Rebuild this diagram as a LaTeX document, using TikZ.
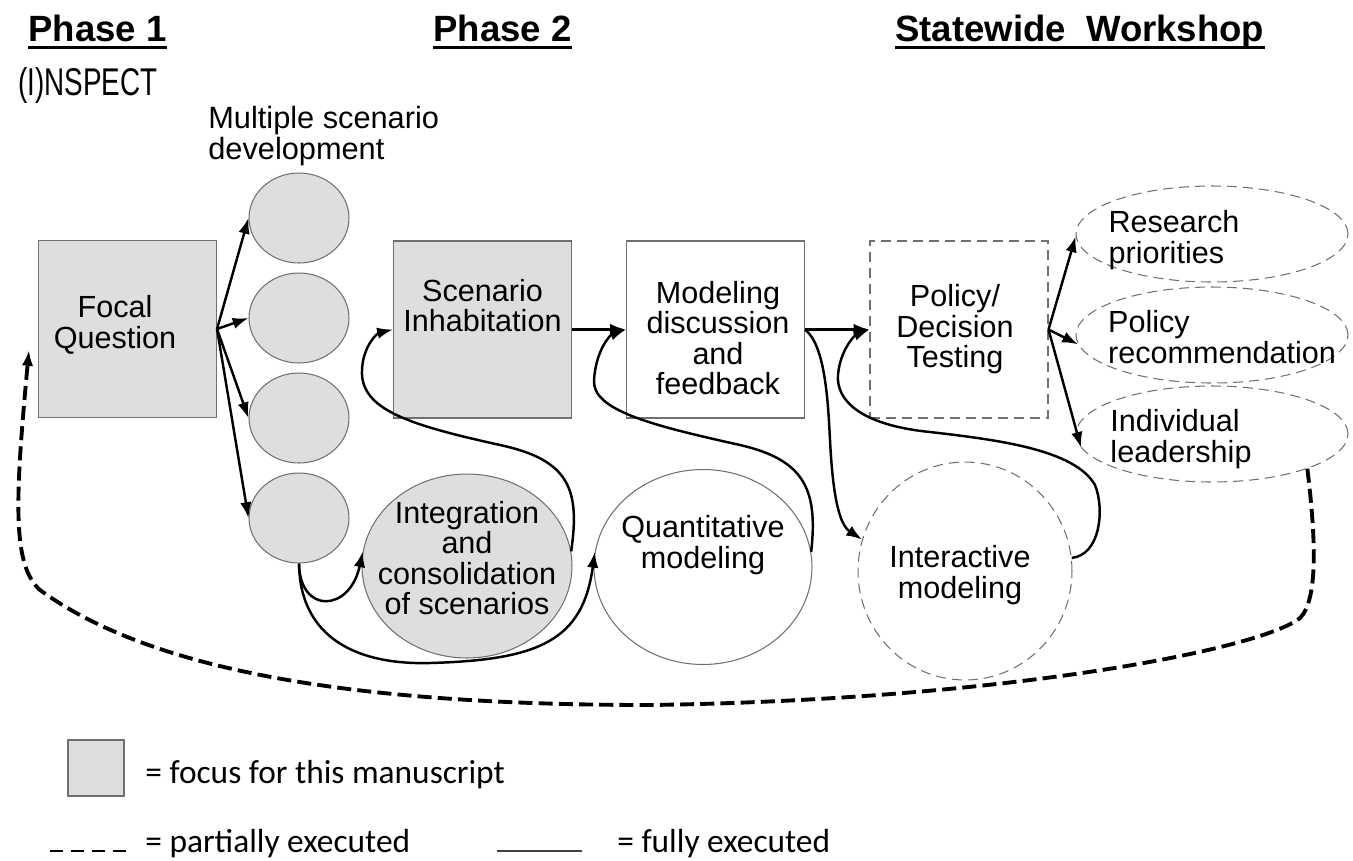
\documentclass[tikz,border=0pt]{standalone}
\usepackage{fontspec}
\setmainfont{Liberation Sans}
\newfontfamily\legfont{Carlito}
\usepackage{tikz}
\usetikzlibrary{shapes.geometric}
\usetikzlibrary{arrows.meta}
\usetikzlibrary{positioning}
\definecolor{fokusgrau}{HTML}{DEDEDE}
\definecolor{randgrau}{HTML}{707070}
\tikzset{
  Focus/.style={draw=randgrau, fill=fokusgrau, line width=0.6pt}, % Schwerpunkt
  Plain/.style={draw=randgrau, line width=0.6pt}, % ausgefuehrt
  Partial/.style={draw=randgrau, line width=0.6pt, dash pattern=on 5.7pt off 3.4pt}, % teilweise
  Square/.style={rectangle, minimum width=3.56cm, minimum height=3.54cm, inner sep=0pt},
  Bubble/.style={ellipse, minimum width=2cm, minimum height=1.8cm, inner sep=0pt},
  Result/.style={ellipse, Partial, minimum width=5.44cm, minimum height=1.92cm, inner sep=0pt},
  Label/.style={inner sep=0pt, align=center},
  RLabel/.style={inner sep=0pt, align=left},
  Head/.style={anchor=base west, inner sep=0pt, font=\fontsize{20.8}{24}\selectfont\bfseries},
  Legend/.style={anchor=base west, inner sep=0pt, font=\legfont\fontsize{19}{22}\selectfont},
  Arrow/.style={line width=1.4pt, ->}, % Pfeile
  BackArrow/.style={line width=2.2pt, ->, dash pattern=on 8pt off 3.5pt} % Rueckfuehrung
}

\begin{document}
\begin{tikzpicture}[x=0.02cm, y=-0.02cm,
font=\fontsize{17.4}{17.4}\selectfont,
>={Latex[length=9pt,width=6.5pt]} % Pfeilspitzen
]
\useasboundingbox (0,0) rectangle (1353,860);

%Ueberschriften
\node[Head] (ph1) at (28,41) {Phase 1};
\node[Head] (ph2) at (433,41) {Phase 2};
\node[Head] (ws) at (895,41) {Statewide\ \ Workshop};
\foreach \h in {ph1,ph2,ws}
  \draw[line width=1.6pt] ([yshift=-3.5pt]\h.base west) -- ([yshift=-3.5pt]\h.base east);
\node[anchor=base west, inner sep=0pt, font=\fontsize{22}{24}\selectfont] (insp) at (18,95) {\scalebox{0.72}[1]{(I)NSPECT}};
\node[anchor=north west, inner sep=0pt, align=left, font=\fontsize{17.5}{15.9}\selectfont] (msd) at (208,106) {Multiple scenario\\development};

%Kaesten
\node[Square, Focus, label={[Label,xshift=-0.25cm,yshift=0.08cm]center:Focal\\Question}] (focal) at (127.5,329) {};
\foreach \i in {1,...,4}
  \node[Bubble, Focus] (sc\i) at (299,118+100*\i) {};
\node[Square, Focus, label={[Label,yshift=0.48cm]center:Scenario\\Inhabitation}] (scen) at (482.5,329.5) {};
\node[Square, Plain, label={[Label,xshift=0.05cm,yshift=-0.17cm]center:Modeling\\discussion\\and\\feedback}] (model) at (715.5,329.5) {};
\node[Square, Partial, label={[Label,xshift=-0.08cm]center:Policy/\\Decision\\Testing}] (pol) at (959,329.5) {};

%Ergebnisse
\node[Result, label={[RLabel,xshift=-0.76cm,yshift=-0.12cm]center:Research\\priorities}] (res1) at (1212,234) {};
\node[Result, label={[RLabel,xshift=0.2cm,yshift=-0.04cm]center:Policy\\recommendation}] (res2) at (1212,335) {};
\node[Result, label={[RLabel,xshift=-0.62cm,yshift=-0.1cm]center:Individual\\leadership}] (res3) at (1212,434) {};

%Modelle
\node[ellipse, Focus, minimum width=4.2cm, minimum height=3.68cm, inner sep=0pt,
  label={[Label,yshift=0.16cm]center:Integration\\and\\consolidation\\of scenarios}] (integ) at (467,566) {};
\node[ellipse, Plain, minimum width=4.36cm, minimum height=3.9cm, inner sep=0pt,
  label={[Label,yshift=0.44cm]center:Quantitative\\modeling}] (quant) at (703,567) {};
\node[ellipse, Partial, minimum width=4.28cm, minimum height=4.36cm, inner sep=0pt,
  label={[Label,xshift=-0.1cm,yshift=-0.08cm]center:Interactive\\modeling}] (inter) at (965,571) {};

%Pfeile
\foreach \i in {1,...,4}
  \draw[Arrow] (focal.east) -- (sc\i.west);
\draw[Arrow] (scen.east) -- (model.west);
\draw[Arrow] (model.east) -- (pol.west);
\draw[Arrow] (pol.east) -- (res1.181);
\draw[Arrow] (pol.east) -- (res2.184);
\draw[Arrow] (pol.east) -- (res3.186);

%Rueckkopplungen
\draw[Arrow] (sc4.south) .. controls (300,615) and (350,612) .. (integ.172);
\draw[Arrow] (sc4.south) .. controls (300,640) and (360,665) .. (430,663) .. controls (540,660) and (583,640) .. (quant.172);
\draw[Arrow] (integ.8) .. controls (580,490) and (570,460) .. (500,445) .. controls (410,425) and (360,410) .. (362,370) .. controls (363,345) and (378,333) .. (scen.west);
\draw[Arrow] (quant.8) .. controls (818,490) and (805,460) .. (740,445) .. controls (650,425) and (592,410) .. (594,380) .. controls (596,350) and (610,335) .. (model.west);
\draw[Arrow] (model.east) .. controls (825,345) and (828,400) .. (830,440) .. controls (833,500) and (840,525) .. (inter.163);
\draw[Arrow] (inter.7) .. controls (1100,555) and (1105,510) .. (1095,485) .. controls (1075,450) and (1000,440) .. (930,432) .. controls (860,425) and (836,400) .. (838,375) .. controls (840,350) and (855,335) .. (pol.west);

%Rueckfuehrung zur Fragestellung
\coordinate (ret) at ([xshift=-0.18cm,yshift=-0.42cm]focal.west);
\draw[BackArrow] (res3.340) .. controls (1316,540) and (1318,600) .. (1300,618) .. controls (1260,650) and (1000,700) .. (650,705) .. controls (350,705) and (150,670) .. (40,590) .. controls (12,565) and (15,500) .. (ret);

%Legende
\node[Focus, minimum width=1.12cm, minimum height=1.12cm, inner sep=0pt] (legbox) at (96,768) {};
\node[Legend] (legfocus) at (145,783) {= focus for this manuscript};
\coordinate (dashA) at (50,851);
\coordinate (dashB) at (127,851);
\draw[line width=1.5pt, dash pattern=on 7.4pt off 4.5pt] (dashA) -- (dashB);
\node[Legend] (legpart) at (145,852) {= partially executed};
\coordinate (lineA) at (497,851);
\coordinate (lineB) at (582,851);
\draw[line width=0.9pt, black!75] (lineA) -- (lineB);
\node[Legend] (legfull) at (617,852) {= fully executed};
\end{tikzpicture}
\end{document}
